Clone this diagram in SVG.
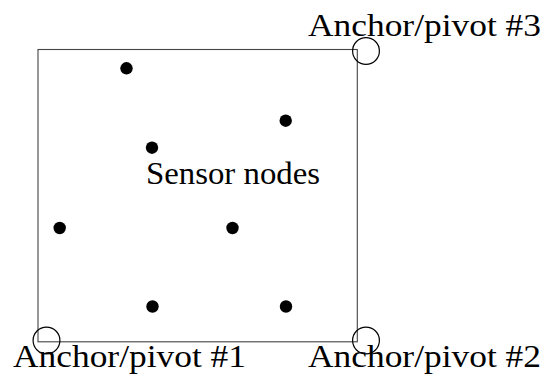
<svg xmlns="http://www.w3.org/2000/svg" width="547" height="385" viewBox="0 0 547 385">
<style>
.lbl{font-family:'Liberation Serif','Times New Roman',serif;font-size:32px;fill:#000}
.dot{fill:#000}
.anchor{fill:none;stroke:#000;stroke-width:1.2}
.field{fill:none;stroke:#444;stroke-width:1.1}
</style>
<rect width="547" height="385" fill="#fff"/>
<g id="connectors">
<rect class="field" x="38" y="49.5" width="319.3" height="292.3"/>
</g>
<g id="sensor-1"><circle class="dot" cx="126.5" cy="68.3" r="6.2"/></g>
<g id="sensor-2"><circle class="dot" cx="285.7" cy="120.7" r="6.2"/></g>
<g id="sensor-3"><circle class="dot" cx="152" cy="147.7" r="6.2"/></g>
<g id="sensor-4"><circle class="dot" cx="59.7" cy="228" r="6.2"/></g>
<g id="sensor-5"><circle class="dot" cx="232.5" cy="228" r="6.2"/></g>
<g id="sensor-6"><circle class="dot" cx="152.5" cy="306.5" r="6.2"/></g>
<g id="sensor-7"><circle class="dot" cx="286" cy="306.5" r="6.2"/></g>
<g id="sensor-label"><text class="lbl" x="146" y="184" textLength="174" lengthAdjust="spacingAndGlyphs">Sensor nodes</text></g>
<g id="anchor-1">
<circle class="anchor" cx="46.5" cy="340.5" r="13.4"/>
<text class="lbl" x="13" y="367" textLength="233" lengthAdjust="spacingAndGlyphs">Anchor/pivot #1</text>
</g>
<g id="anchor-2">
<circle class="anchor" cx="366" cy="340.5" r="13.4"/>
<text class="lbl" x="308" y="367" textLength="233" lengthAdjust="spacingAndGlyphs">Anchor/pivot #2</text>
</g>
<g id="anchor-3">
<circle class="anchor" cx="366" cy="51" r="13.4"/>
<text class="lbl" x="308" y="36" textLength="233" lengthAdjust="spacingAndGlyphs">Anchor/pivot #3</text>
</g>
</svg>
